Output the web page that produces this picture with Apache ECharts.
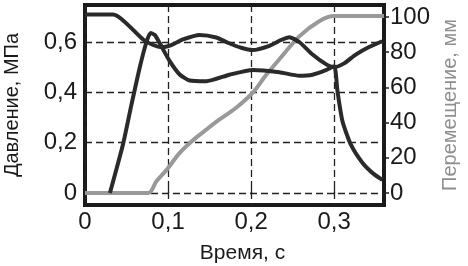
<!DOCTYPE html>
<html>
<head>
<meta charset="utf-8">
<script src="https://cdn.jsdelivr.net/npm/echarts@6/dist/echarts.min.js"></script>
<style>
html,body{margin:0;padding:0;background:#fff;}
#c{width:468px;height:266px;}
</style>
</head>
<body>
<div id="c"></div>
<script>
// Time ticks (s)
var timeTicks = [0, 0.1, 0.2, 0.3];
// Pressure ticks (MPa)
var pressureTicks = [0, 0.2, 0.4, 0.6];
// Displacement ticks (mm)
var displacementTicks = [0, 20, 40, 60, 80, 100];

// Pressure line 1 [time, MPa]
var pressure1 = [[0,0.709],[0.034,0.709],[0.07,0.61],[0.082,0.588],[0.092,0.579],[0.104,0.588],[0.118,0.61],[0.138,0.628],[0.158,0.618],[0.172,0.597],[0.188,0.577],[0.202,0.568],[0.222,0.585],[0.236,0.608],[0.246,0.619],[0.258,0.6],[0.274,0.55],[0.29,0.512],[0.300,0.50],[0.312,0.515],[0.326,0.55],[0.342,0.58],[0.358,0.603]];
// Pressure line 2 [time, MPa]
var pressure2 = [[0.030,0],[0.046,0.197],[0.056,0.352],[0.066,0.5],[0.074,0.6],[0.079,0.636],[0.084,0.628],[0.090,0.595],[0.102,0.524],[0.114,0.471],[0.126,0.447],[0.146,0.444],[0.174,0.47],[0.202,0.489],[0.234,0.48],[0.258,0.466],[0.274,0.47],[0.290,0.488],[0.300,0.504],[0.304,0.404],[0.310,0.285],[0.320,0.193],[0.334,0.12],[0.346,0.08],[0.358,0.052]];
// Displacement [time, mm]
var displacement = [[0,0],[0.076,0],[0.086,6.7],[0.098,13],[0.114,22.8],[0.130,30],[0.146,36],[0.162,41.8],[0.182,48.4],[0.202,57],[0.218,67],[0.234,76],[0.258,89],[0.282,97.6],[0.300,100.5],[0.36,100.5]];

var FONT = "'Liberation Sans', Arial, sans-serif";
var TXT = '#1a1a1a';
function comma(v){ return String(v).replace('.', ','); }

var chart = echarts.init(document.getElementById('c'), null, {renderer:'canvas'});
chart.setOption({
  animation: false,
  backgroundColor: '#fff',
  grid: {left: 85, right: 84, top: 5, bottom: 61, show: true, borderWidth: 4, borderColor: '#1a1a1a', backgroundColor: 'transparent', containLabel: false, outerBoundsMode: 'none'},
  xAxis: {
    type: 'value', min: 0, max: 0.36,
    name: 'Время, с', nameLocation: 'middle', nameGap: 38,
    nameTextStyle: {fontFamily: FONT, fontSize: 21, color: TXT, padding: [0,0,0,16]},
    axisLine: {show: false},
    axisTick: {show: true, inside: true, length: 5, customValues: timeTicks, lineStyle: {color: '#222', width: 1.3}},
    axisLabel: {customValues: timeTicks, formatter: comma, fontFamily: FONT, fontSize: 24, color: TXT, margin: 5},
    splitLine: {show: true, lineStyle: {color: '#222', width: 1.3, type: [7,4]}}
  },
  yAxis: [{
    type: 'value', min: -0.0477, max: 0.747, position: 'left',
    name: 'Давление, МПа', nameLocation: 'middle', nameGap: 63, nameRotate: 90,
    nameTextStyle: {fontFamily: FONT, fontSize: 20, color: TXT},
    axisLine: {show: false},
    axisTick: {show: false, customValues: pressureTicks},
    axisLabel: {customValues: pressureTicks, formatter: comma, fontFamily: FONT, fontSize: 24, color: TXT, margin: 8},
    splitLine: {show: true, lineStyle: {color: '#222', width: 1.3, type: [7,4]}}
  },{
    type: 'value', min: -6.8, max: 106.8, position: 'right',
    name: 'Перемещение, мм', nameLocation: 'middle', nameGap: 56, nameRotate: 90,
    nameTextStyle: {fontFamily: FONT, fontSize: 20, color: '#8f8f8f'},
    axisLine: {show: false},
    axisTick: {show: true, length: 5, customValues: displacementTicks, lineStyle: {color: '#222', width: 1.5}},
    axisLabel: {customValues: displacementTicks, fontFamily: FONT, fontSize: 24, color: TXT, margin: 6},
    splitLine: {show: false}
  }],
  series: [
    {type: 'line', yAxisIndex: 1, data: displacement, smooth: 0.3, showSymbol: false, lineStyle: {color: '#999999', width: 4}},
    {type: 'line', yAxisIndex: 0, data: pressure1, smooth: 0.2, showSymbol: false, lineStyle: {color: '#2a2a2a', width: 4}},
    {type: 'line', yAxisIndex: 0, data: pressure2, smooth: 0.2, showSymbol: false, lineStyle: {color: '#2a2a2a', width: 4}}
  ]
});
</script>
</body>
</html>
